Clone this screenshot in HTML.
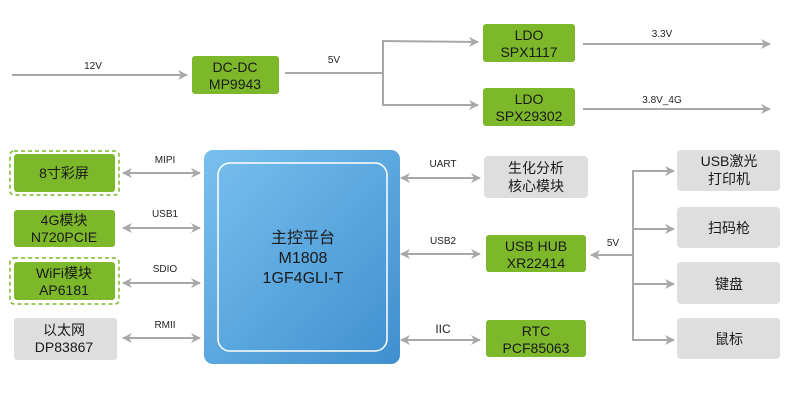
<!DOCTYPE html>
<html><head><meta charset="utf-8"><style>
html,body{margin:0;padding:0;background:#fff;}
svg{display:block;font-family:"Liberation Sans","Noto Sans CJK SC",sans-serif;}
.g{fill:#7cb82a;}
.gr{fill:#dedede;}
.t{font-size:14px;fill:#1a1a1a;text-anchor:middle;}
.s{font-size:10px;fill:#222;text-anchor:middle;}
.l{stroke:#a8a8a8;stroke-width:2;fill:none;}
.a{fill:#a8a8a8;}
</style></head><body>
<svg width="800" height="409" viewBox="0 0 800 409">
<defs>
<linearGradient id="bg" x1="0" y1="0" x2="1" y2="1">
<stop offset="0" stop-color="#78c0ee"/><stop offset="1" stop-color="#3f8fd0"/></linearGradient>
<marker id="ar" markerWidth="10" markerHeight="10" refX="9" refY="5" orient="auto" markerUnits="userSpaceOnUse">
<path d="M0,0 L10,5 L0,10 L3,5 Z" class="a"/></marker>
<marker id="al" markerWidth="10" markerHeight="10" refX="1" refY="5" orient="auto" markerUnits="userSpaceOnUse">
<path d="M10,0 L0,5 L10,10 L7,5 Z" class="a"/></marker>
</defs>
<!-- top power -->
<line class="l" x1="12" y1="75" x2="187" y2="75" marker-end="url(#ar)"/>
<text class="s" x="93" y="69">12V</text>
<rect class="g" x="192" y="56" width="87" height="38" rx="3"/>
<text class="t" x="235" y="72">DC-DC</text><text class="t" x="235" y="89">MP9943</text>
<line class="l" x1="285" y1="73" x2="383" y2="73"/>
<text class="s" x="334" y="63">5V</text>
<polyline class="l" points="383,41 383,105 478,105" marker-end="url(#ar)"/>
<line class="l" x1="382" y1="41" x2="478" y2="42" marker-end="url(#ar)"/>
<rect class="g" x="483" y="24" width="92" height="38" rx="3"/>
<text class="t" x="529" y="40">LDO</text><text class="t" x="529" y="57">SPX1117</text>
<rect class="g" x="483" y="88" width="92" height="38" rx="3"/>
<text class="t" x="529" y="104">LDO</text><text class="t" x="529" y="121">SPX29302</text>
<line class="l" x1="583" y1="44" x2="770" y2="44" marker-end="url(#ar)"/>
<text class="s" x="662" y="37">3.3V</text>
<line class="l" x1="583" y1="109" x2="770" y2="109" marker-end="url(#ar)"/>
<text class="s" x="662" y="103">3.8V_4G</text>
<!-- left boxes -->
<rect x="10" y="151" width="109" height="44" rx="4" fill="none" stroke="#7cb82a" stroke-width="1.5" stroke-dasharray="4,3"/>
<rect class="g" x="14" y="154" width="101" height="38" rx="3"/>
<text class="t" x="64" y="178">8寸彩屏</text>
<rect class="g" x="14" y="210" width="101" height="37" rx="3"/>
<text class="t" x="64" y="225">4G模块</text><text class="t" x="64" y="242">N720PCIE</text>
<rect x="10" y="258" width="109" height="46" rx="4" fill="none" stroke="#7cb82a" stroke-width="1.5" stroke-dasharray="4,3"/>
<rect class="g" x="14" y="262" width="101" height="38" rx="3"/>
<text class="t" x="64" y="278">WiFi模块</text><text class="t" x="64" y="295">AP6181</text>
<rect class="gr" x="14" y="318" width="103" height="42" rx="3"/>
<text class="t" x="64" y="335">以太网</text><text class="t" x="64" y="352">DP83867</text>
<g>
<line class="l" x1="123" y1="173" x2="200" y2="173" marker-start="url(#al)" marker-end="url(#ar)"/>
<text class="s" x="165" y="163">MIPI</text>
<line class="l" x1="123" y1="228" x2="200" y2="228" marker-start="url(#al)" marker-end="url(#ar)"/>
<text class="s" x="165" y="217">USB1</text>
<line class="l" x1="123" y1="283" x2="200" y2="283" marker-start="url(#al)" marker-end="url(#ar)"/>
<text class="s" x="165" y="272">SDIO</text>
<line class="l" x1="123" y1="338" x2="200" y2="338" marker-start="url(#al)" marker-end="url(#ar)"/>
<text class="s" x="165" y="328">RMII</text>
</g>
<!-- main -->
<rect x="204" y="150" width="196" height="214" rx="9" fill="url(#bg)"/>
<rect x="218" y="163" width="169" height="188" rx="12" fill="none" stroke="#fff" stroke-width="1.5"/>
<text class="t" x="303" y="243" style="font-size:16px">主控平台</text>
<text class="t" x="303" y="263" style="font-size:16px">M1808</text>
<text class="t" x="303" y="283" style="font-size:16px">1GF4GLI-T</text>
<!-- right of main -->
<line class="l" x1="401" y1="178" x2="480" y2="178" marker-start="url(#al)" marker-end="url(#ar)"/>
<text class="s" x="443" y="167">UART</text>
<line class="l" x1="401" y1="254" x2="480" y2="254" marker-start="url(#al)" marker-end="url(#ar)"/>
<text class="s" x="443" y="244">USB2</text>
<line class="l" x1="401" y1="340" x2="480" y2="340" marker-start="url(#al)" marker-end="url(#ar)"/>
<text class="s" x="443" y="333" style="font-size:12px">IIC</text>
<rect class="gr" x="484" y="156" width="104" height="42" rx="4"/>
<text class="t" x="536" y="173">生化分析</text><text class="t" x="536" y="191">核心模块</text>
<rect class="g" x="486" y="235" width="100" height="37" rx="3"/>
<text class="t" x="536" y="251">USB HUB</text><text class="t" x="536" y="268">XR22414</text>
<rect class="g" x="486" y="320" width="100" height="37" rx="3"/>
<text class="t" x="536" y="336">RTC</text><text class="t" x="536" y="353">PCF85063</text>
<!-- far right -->
<line class="l" x1="633" y1="255" x2="591" y2="255" marker-end="url(#ar)"/>
<text class="s" x="613" y="246">5V</text>
<line class="l" x1="633" y1="171" x2="633" y2="340"/>
<line class="l" x1="632" y1="171" x2="674" y2="171" marker-end="url(#ar)"/>
<line class="l" x1="632" y1="229" x2="674" y2="229" marker-end="url(#ar)"/>
<line class="l" x1="632" y1="284" x2="674" y2="284" marker-end="url(#ar)"/>
<line class="l" x1="632" y1="340" x2="674" y2="340" marker-end="url(#ar)"/>
<rect class="gr" x="677" y="150" width="103" height="41" rx="4"/>
<text class="t" x="729" y="166">USB激光</text><text class="t" x="729" y="184">打印机</text>
<rect class="gr" x="677" y="207" width="103" height="41" rx="4"/>
<text class="t" x="729" y="233">扫码枪</text>
<rect class="gr" x="677" y="262" width="103" height="42" rx="4"/>
<text class="t" x="729" y="289">键盘</text>
<rect class="gr" x="677" y="318" width="103" height="41" rx="4"/>
<text class="t" x="729" y="344">鼠标</text>
</svg>
</body></html>
